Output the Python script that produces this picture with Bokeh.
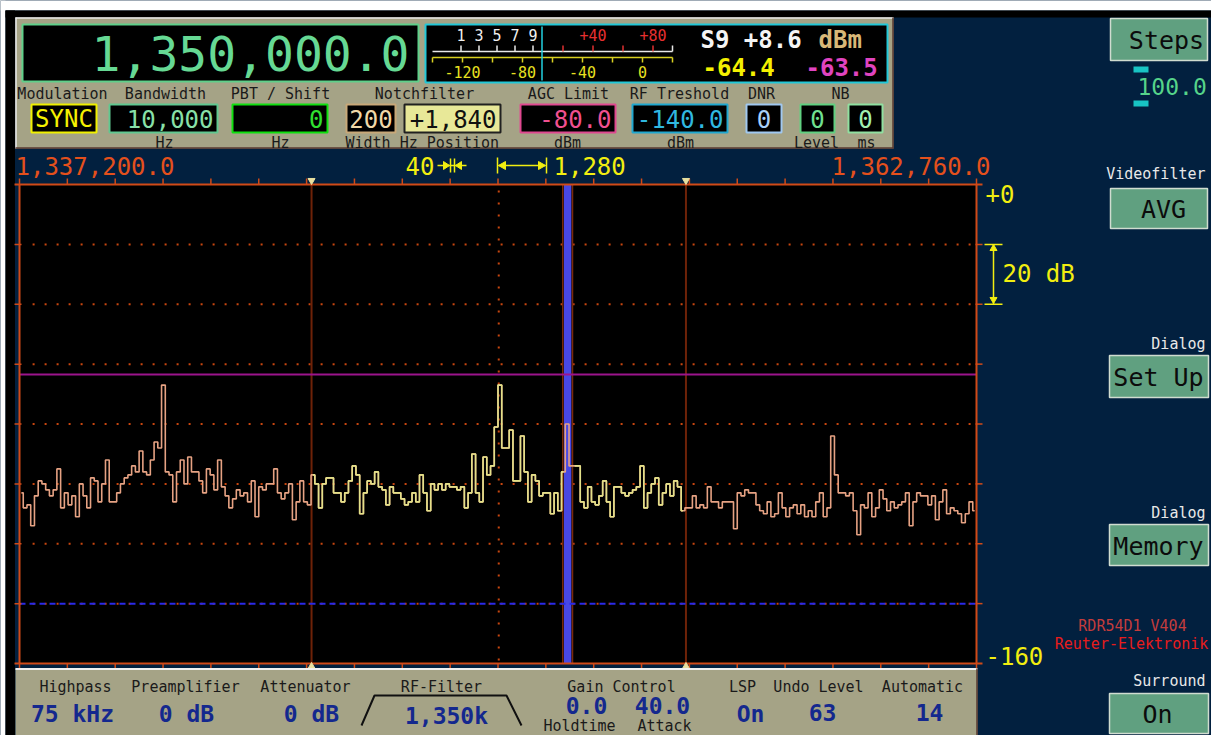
import numpy as np
from bokeh.plotting import figure
from bokeh.models import Range1d
from bokeh.core.properties import value
from bokeh.embed import file_html
from bokeh.resources import INLINE

# ------------------------------------------------------------------ data
freq_readout = "1,350,000.0"
span_start_khz = 1337.2
span_end_khz = 1362.76
span_labels = ["1,337,200.0", "1,362,760.0"]
center_khz = 1350.0
bandwidth_khz = 10.0
notch_width_khz = 0.2
notch_offset_khz = 1.84
division_count = 20
division_label = "1,280"
step_label = "40"
ref_level_db = 0.0
floor_level_db = -160.0
grid_levels_db = [-20, -40, -60, -80, -100, -120, -140]
level_labels = ["+0", "-160"]
scale_span_db = [-20, -40]
scale_label = "20 dB"
avg_level_dbm = -63.5
rf_threshold_dbm = -140.0

spectrum_db = [
    -103, -108, -107, -114, -104, -99, -100, -102, -104, -102,
    -95, -108, -103, -107, -104, -111, -100, -104, -108, -98,
    -99, -106, -100, -92, -106, -106, -103, -100, -98, -97,
    -94, -96, -89, -96, -97, -92, -86, -88, -67, -96,
    -97, -106, -96, -92, -100, -91, -96, -96, -99, -103,
    -95, -97, -102, -92, -101, -104, -108, -105, -102, -104,
    -103, -106, -99, -111, -101, -102, -100, -100, -95, -103,
    -105, -103, -100, -112, -106, -99, -106, -107, -97, -100,
    -108, -100, -98, -98, -103, -103, -106, -103, -99, -94,
    -97, -110, -103, -99, -100, -96, -101, -102, -107, -101,
    -103, -103, -105, -107, -106, -103, -106, -97, -103, -109,
    -100, -102, -100, -102, -100, -101, -101, -102, -101, -108,
    -103, -90, -103, -106, -91, -97, -94, -81, -67, -88,
    -88, -82, -99, -99, -84, -96, -106, -97, -99, -104,
    -103, -103, -110, -103, -109, -96, -80, -94, -94, -94,
    -106, -108, -101, -106, -107, -104, -99, -106, -111, -101,
    -101, -103, -104, -103, -102, -101, -94, -108, -103, -100,
    -98, -107, -103, -100, -104, -99, -101, -109, -108, -108,
    -104, -108, -107, -108, -101, -106, -106, -108, -106, -106,
    -106, -115, -103, -104, -102, -103, -103, -107, -109, -110,
    -106, -111, -110, -103, -108, -111, -108, -107, -110, -107,
    -111, -109, -111, -106, -103, -111, -108, -84, -97, -103,
    -103, -104, -103, -109, -117, -107, -108, -103, -111, -108,
    -102, -105, -109, -106, -108, -107, -106, -103, -114, -106,
    -103, -104, -104, -107, -104, -112, -106, -102, -110, -108,
    -109, -110, -113, -110, -106, -109,
]

# S-meter
s_units = [1, 3, 5, 7, 9]
s9_dbm = -73.0
s_unit_db = 6.0
over_s9_db = [20, 40, 60, 80]
over_s9_labels = ["", "+40", "", "+80"]
dbm_ticks = [-140, -120, -100, -80, -60, -40, -20, 0, 20]
dbm_labels = [-120, -80, -40, 0]
meter_needle_dbm = -67.0
meter_readings = ["S9 +8.6", "dBm", "-64.4", "-63.5"]

param_labels = ["Modulation", "Bandwidth", "PBT / Shift", "Notchfilter",
                "AGC Limit", "RF Treshold", "DNR", "NB"]
param_values = ["SYNC", "10,000", "0", "200", "+1,840", "-80.0", "-140.0",
                "0", "0", "0"]
param_units = ["Hz", "Hz", "Width Hz Position", "dBm", "dBm", "Level", "ms"]

bottom_labels = ["Highpass", "Preamplifier", "Attenuator", "RF-Filter",
                 "Gain Control", "LSP", "Undo Level", "Automatic"]
bottom_values = ["75 kHz", "0 dB", "0 dB", "1,350k", "0.0", "40.0", "On",
                 "63", "14"]
bottom_sub = ["Holdtime", "Attack"]

side_captions = ["Videofilter", "Dialog", "Dialog", "Surround"]
side_buttons = ["Steps", "AVG", "Set Up", "Memory", "On"]
step_value = "100.0"
credits = ["RDR54D1 V404", "Reuter-Elektronik"]

# ------------------------------------------------------------------ style
FONT = value("DejaVu Sans Mono")
NAVY = "#02203F"
PANEL = "#A5A386"
ORANGE = "#D04A18"
DOT = "#C8460F"
BROWN = "#6E2208"
SALMON = "#E6A283"
YTRACE = "#E2E088"
YELLOW = "#F2EE10"
LABEL = "#1A1A1A"
BLUE_TXT = "#14288E"
BTN = "#60A080"

W, H = 1211, 735
X0, X1, Y0, Y1 = 0, 1211, 0, 735
p = figure(width=W, height=H, x_range=Range1d(X0, X1), y_range=Range1d(Y1, Y0),
           output_backend="svg", toolbar_location=None, min_border=0,
           x_axis_type=None, y_axis_type=None)
p.grid.visible = False
p.outline_line_color = None
p.background_fill_color = NAVY
p.border_fill_color = NAVY

# spectrum scales: frequency (kHz) and level (dB)
x_l, x_r = 19.0, 976.0
y_t, y_b = 184.0, 663.0
kx = (x_r - x_l) / (span_end_khz - span_start_khz)
ky = (y_b - y_t) / (ref_level_db - floor_level_db)
p.extra_x_ranges = {
    "freq": Range1d(span_start_khz - (x_l - X0) / kx, span_start_khz + (X1 - x_l) / kx),
    "meter": Range1d((X0 - 642) / 1.5, (X1 - 642) / 1.5),
}
p.extra_y_ranges = {"db": Range1d(ref_level_db - (Y1 - y_t) / ky, ref_level_db + (y_t - Y0) / ky)}


def seg(x0, y0, x1, y1, color, w=1.5, dash="solid", xr="default", yr="default"):
    a, b, c, d = np.broadcast_arrays(np.asarray(x0, float), np.asarray(y0, float),
                                     np.asarray(x1, float), np.asarray(y1, float))
    p.segment(x0=a.ravel(), y0=b.ravel(), x1=c.ravel(), y1=d.ravel(), line_color=color,
              line_width=w, line_dash=dash, x_range_name=xr, y_range_name=yr)


def txt(x, y, s, size, color, align="left", bold=False, xr="default", yr="default"):
    xs = list(np.atleast_1d(x))
    ys = list(np.atleast_1d(y))
    ss = s if isinstance(s, list) else [s]
    n = max(len(xs), len(ys), len(ss))
    xs = xs * n if len(xs) == 1 else xs
    ys = ys * n if len(ys) == 1 else ys
    ss = ss * n if len(ss) == 1 else ss
    p.text(x=xs, y=ys, text=ss, text_font=FONT, text_font_size=f"{size}px",
           text_color=color, text_align=align, text_baseline="middle",
           text_font_style="bold" if bold else "normal",
           x_range_name=xr, y_range_name=yr)


def box(l, r, t, b, fill, line=None, lw=2, xr="default", yr="default"):
    p.quad(left=[l], right=[r], top=[t], bottom=[b], fill_color=fill,
           line_color=line, line_width=lw, x_range_name=xr, y_range_name=yr)


# ------------------------------------------------------------------ frame
box(0, 1211, 0, 10, "white")
box(0, 5, 0, 735, "white")
box(5, 1211, 10, 17, "black")
box(5, 14.5, 10, 735, "black")

# ------------------------------------------------------------------ top panel
box(15, 893, 17, 148, PANEL)
seg(15, 17.5, 893, 17.5, "#E8E8E8", 1.5)
seg(15.5, 17, 15.5, 148, "#E8E8E8", 1.5)
seg(15, 147.5, 893, 147.5, "#5A3A30", 1.5)
seg(892.5, 17, 892.5, 148, "#5A3A30", 1.5)

box(22, 418, 24, 81, "black", "#5FD08A", 2)
txt(409, 53, freq_readout, 48, "#66D994", "right")

# S-meter
box(425, 887, 24, 82, "black", "#22C8D8", 2)
s_pos = [s9_dbm - s_unit_db * (9 - s) for s in s_units]
over_pos = [s9_dbm + o for o in over_s9_db]
seg(dbm_ticks[0], 51, dbm_ticks[-1], 51, "#E8E8E8", 1.5, xr="meter")
seg(s_pos, 45, s_pos, 51, "#E8E8E8", 1.5, xr="meter")
seg(dbm_ticks[-1], 45, dbm_ticks[-1], 51, "#E8E8E8", 1.5, xr="meter")
seg(over_pos, 45, over_pos, 51, "#E03030", 1.5, xr="meter")
txt(s_pos, 34, [str(s) for s in s_units], 15, "#F0F0F0", "center", xr="meter")
lbl_pos = [op for op, lb in zip(over_pos, over_s9_labels) if lb]
txt(lbl_pos, 34, [lb for lb in over_s9_labels if lb], 15, "#E83030", "center", xr="meter")
seg(dbm_ticks[0], 57, dbm_ticks[-1], 57, "#D8D020", 1.5, xr="meter")
seg(dbm_ticks, 57, dbm_ticks, 62, "#D8D020", 1.5, xr="meter")
txt(dbm_labels, 71, [str(v) for v in dbm_labels], 15, "#E8E020", "center", xr="meter")
seg(meter_needle_dbm, 26, meter_needle_dbm, 80, "#22D0E0", 1.5, xr="meter")
txt(700, 39, meter_readings[0], 24, "#F4F4F4", "left", True)
txt(818, 39, meter_readings[1], 24, "#D8B878", "left", True)
txt(702, 66, meter_readings[2], 24, "#F4F000", "left", True)
txt(805, 66, meter_readings[3], 24, "#E044C0", "left", True)

# parameter labels
label_x = [62, 165, 280, 424, 568, 679, 761, 840]
txt(label_x, 93, param_labels, 15, LABEL, "center")

# parameter value boxes: (left, right, border, fill, text colour, align)
vboxes = [
    (31, 96, "#F0F000", "black", "#F4F000", "center"),
    (109, 217, "#60C890", "black", "#88E0A8", "right"),
    (232, 327, "#10E010", "black", "#30E030", "right"),
    (346, 395, "#C8A878", "black", "#F0D8A8", "center"),
    (404, 500, "#202020", "#E8E898", "#101010", "right"),
    (520, 615, "#E04890", "black", "#F05090", "right"),
    (632, 727, "#20A8D0", "black", "#30B8E0", "right"),
    (746, 781, "#A0C8F0", "black", "#A8D0F8", "center"),
    (800, 834, "#60D080", "black", "#70E090", "center"),
    (848, 882, "#90E0A0", "black", "#A0F0B0", "center"),
]
for (l, r, bc, fc, tc, al), v in zip(vboxes, param_values):
    box(l, r, 104, 132, fc, bc, 2)
    tx = (l + r) / 2 if al == "center" else r - 4
    txt(tx, 118.5, v, 24, tc, al)

unit_x = [164, 280, 345, 567, 680, 816, 866]
unit_al = ["center", "center", "left", "center", "center", "center", "center"]
for ux, ua, u in zip(unit_x, unit_al, param_units):
    txt(ux, 142, u, 15, LABEL, ua)

# ------------------------------------------------------------------ span row
txt(15, 165, span_labels[0], 24, "#E4501C", "left")
txt(990, 165, span_labels[1], 24, "#E4501C", "right")
txt(434, 165, step_label, 24, YELLOW, "right")
seg(437, 165, 466, 165, YELLOW, 1.5)
seg([450, 454], 158, [450, 454], 172, YELLOW, 1.5)
p.patches(xs=[[443, 449, 443], [461, 455, 461]], ys=[[161, 165, 169], [161, 165, 169]],
          fill_color=YELLOW, line_color=YELLOW)
seg([497, 546], 157, [497, 546], 173, YELLOW, 1.5)
seg(498, 165, 545, 165, YELLOW, 1.5)
p.patches(xs=[[498, 505, 505], [545, 538, 538]], ys=[[165, 161, 169], [165, 161, 169]],
          fill_color=YELLOW, line_color=YELLOW)
txt(553, 165, division_label, 24, YELLOW, "left")

# ------------------------------------------------------------------ spectrum
F, D = "freq", "db"
box(span_start_khz, span_end_khz, ref_level_db, floor_level_db, "black", xr=F, yr=D)

seg(span_start_khz + 0.35, grid_levels_db, span_end_khz, grid_levels_db, DOT, 2, "2 10", F, D)
seg(center_khz, ref_level_db - 2, center_khz, floor_level_db, DOT, 2, "2 10", F, D)

lo = center_khz - bandwidth_khz / 2
hi = center_khz + bandwidth_khz / 2
seg([lo, hi], ref_level_db, [lo, hi], floor_level_db, BROWN, 2, xr=F, yr=D)

notch_c = center_khz + notch_offset_khz
nl, nr = notch_c - notch_width_khz / 2, notch_c + notch_width_khz / 2
box(nl, nr, ref_level_db, floor_level_db, "#4848E4", xr=F, yr=D)
seg([nl - 0.03, nr + 0.03], ref_level_db, [nl - 0.03, nr + 0.03], floor_level_db,
    "#7A2A0A", 1.5, xr=F, yr=D)

seg(span_start_khz, avg_level_dbm, span_end_khz, avg_level_dbm, "#9C148C", 2, xr=F, yr=D)
seg(span_start_khz, rf_threshold_dbm, span_end_khz, rf_threshold_dbm, "#2A2AE8", 2, "6 4", F, D)

n = len(spectrum_db)
db = np.asarray(spectrum_db, float)
freqs = span_start_khz + (np.arange(n) + 0.5) * (span_end_khz - span_start_khz) / n
yellow_mask = (freqs >= lo) & (freqs <= hi) & ~((freqs >= nl) & (freqs <= nr))
p.step(freqs, db, mode="center", line_color=SALMON, line_width=1.6,
       x_range_name=F, y_range_name=D)
i = 0
while i < n:
    if yellow_mask[i]:
        j = i
        while j + 1 < n and yellow_mask[j + 1]:
            j += 1
        p.step(freqs[i:j + 1], db[i:j + 1], mode="center", line_color=YTRACE,
               line_width=1.6, x_range_name=F, y_range_name=D)
        i = j + 1
    else:
        i += 1

# frame, ticks
seg(14, ref_level_db, 982, ref_level_db, ORANGE, 2, yr=D)
seg(14, floor_level_db, 982, floor_level_db, ORANGE, 2, yr=D)
seg([span_start_khz, span_end_khz], ref_level_db, [span_start_khz, span_end_khz],
    floor_level_db, ORANGE, 2, xr=F, yr=D)
tick_f = span_start_khz + np.arange(division_count + 1) * (span_end_khz - span_start_khz) / division_count
seg(tick_f, 178, tick_f, 184, ORANGE, 1.5, xr=F)
seg(tick_f, 663, tick_f, 668, ORANGE, 1.5, xr=F)
seg(14, grid_levels_db, 21, grid_levels_db, ORANGE, 1.5, yr=D)
seg(975, grid_levels_db, 982, grid_levels_db, ORANGE, 1.5, yr=D)
p.scatter(x=[lo, hi], y=[180, 180], marker="inverted_triangle", size=7,
          fill_color="#E8E0A0", line_color="#E8E0A0", x_range_name=F)
p.scatter(x=[lo, hi], y=[666, 666], marker="triangle", size=7,
          fill_color="#E8E0A0", line_color="#E8E0A0", x_range_name=F)

# level annotations
txt(985, 193, level_labels[0], 24, YELLOW, "left")
txt(985, 655, level_labels[1], 24, YELLOW, "left")
seg(993, scale_span_db[0], 993, scale_span_db[1], YELLOW, 1.5, yr=D)
seg(984, scale_span_db, 1002, scale_span_db, YELLOW, 1.5, yr=D)
p.scatter(x=[993], y=[248], marker="triangle", size=7, fill_color=YELLOW, line_color=YELLOW)
p.scatter(x=[993], y=[299], marker="inverted_triangle", size=7, fill_color=YELLOW, line_color=YELLOW)
txt(1002, (y_t - ky * scale_span_db[0] + y_t - ky * scale_span_db[1]) / 2, scale_label, 24, YELLOW, "left")

# ------------------------------------------------------------------ bottom panel
box(15, 977, 668, 735, PANEL)
seg(15, 668.5, 977, 668.5, "#F0F0F0", 2)
seg(976.5, 668, 976.5, 735, "#5A3A30", 1.5)
blabel_x = [75, 185, 305, 441, 621, 742, 818, 922]
txt(blabel_x, 686, bottom_labels, 15, LABEL, "center")
bval_x = [72, 186, 311, 446, 586, 662, 750, 822, 929]
bval_y = [713, 713, 713, 715, 705, 705, 713, 712, 712]
for bx, by, bv in zip(bval_x, bval_y, bottom_values):
    txt(bx, by, bv, 23, BLUE_TXT, "center", True)
txt([579, 664], 725, bottom_sub, 15, LABEL, "center")
p.line(x=[361, 374, 506, 521], y=[725, 695, 695, 725], line_color="#101010", line_width=2)

# ------------------------------------------------------------------ right column
btn_boxes = [(1110, 1207, 18, 60), (1110, 1207, 188, 228), (1109, 1208, 355, 397),
             (1109, 1208, 524, 565), (1109, 1208, 693, 733)]
btn_cx = [1166, 1163, 1158, 1158, 1157]
for (l, r, t, b), cx, lb in zip(btn_boxes, btn_cx, side_buttons):
    box(l, r, t, b, BTN, "#D0DCD0", 1.5)
    txt(cx, (t + b) / 2 + 1, lb, 25, "#0C0C0C", "center")
txt(1205, [173, 343, 512, 680], side_captions, 15, "#E8E8E8", "right")
box(1133, 1148, 66, 72, "#18C4C4")
box(1133, 1148, 100, 106, "#18C4C4")
txt(1137, 86, step_value, 23, "#56D48A", "left")
txt(1132, 625, credits[0], 15, "#C43C3C", "center")
txt(1131, 643, credits[1], 15, "#E81C1C", "center")

open("out.html", "w").write(file_html(p, INLINE))
